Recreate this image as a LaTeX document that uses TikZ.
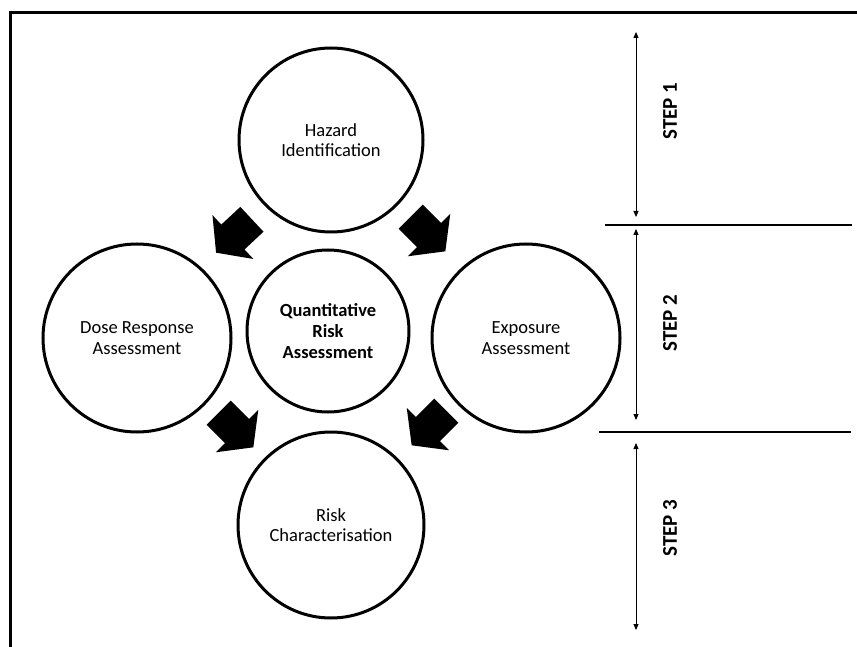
\documentclass[tikz,border=0pt]{standalone}
\usepackage{fontspec}
\setmainfont{Carlito}
\usetikzlibrary{arrows.meta,calc}
\begin{document}
\begin{tikzpicture}[x=1pt,y=-1pt,
  circ/.style={circle,draw,line width=3pt,inner sep=0pt,align=center,
    font=\fontsize{18.5}{20.5}\selectfont},
  blockarrow/.style={fill=black},
  divider/.style={line width=1.5pt},
  span/.style={line width=0.9pt,{Triangle[width=5pt,length=6pt]}-{Triangle[width=5pt,length=6pt]}},
  steplabel/.style={rotate=90,font=\fontsize{21}{24}\selectfont\bfseries,inner sep=0pt}]
\useasboundingbox (0,0) rectangle (857,647);
\fill[white] (0,0) rectangle (857,647);
% frame
\coordinate (fbl) at (10.5,647);
\coordinate (ftl) at (10.5,12.5);
\coordinate (ftr) at (857,12.5);
\draw[line width=3.5pt] (fbl) -- (ftl) -- (ftr);
% circles
\node[circ,minimum size=184pt] (haz) at (331,140) {Hazard\\Identification};
\node[circ,minimum size=188pt] (dose) at (137,338) {Dose Response\\Assessment};
\node[circ,minimum size=162pt,font=\fontsize{18.5}{21}\selectfont\bfseries] (qra) at (328,331) {Quantitative\\Risk\\Assessment};
\node[circ,minimum size=188pt] (expo) at (526,338) {Exposure\\Assessment};
\node[circ,minimum size=186pt] (risk) at (331,525) {Risk\\Characterisation};
% block arrows
\coordinate (a1) at (234,236);
\coordinate (a2) at (428,234);
\coordinate (a3) at (236,430);
\coordinate (a4) at (429,428);
\foreach \p/\ang in {a1/223,a2/315,a3/315,a4/225}{
  \fill[blockarrow,shift={(\p)},rotate=\ang]
    (-24.5,-17) -- (1.5,-17) -- (1.5,-30) -- (24.5,0) -- (1.5,30) -- (1.5,17) -- (-24.5,17) -- cycle;
}
% dividers
\coordinate (d1a) at (605,225); \coordinate (d1b) at (852,225);
\coordinate (d2a) at (599,432); \coordinate (d2b) at (851,432);
\draw[divider] (d1a) -- (d1b);
\draw[divider] (d2a) -- (d2b);
% step spans
\coordinate (s1t) at (636,32);  \coordinate (s1b) at (636,217);
\coordinate (s2t) at (636,229); \coordinate (s2b) at (636,420);
\coordinate (s3t) at (636,443); \coordinate (s3b) at (636,630);
\draw[span] (s1t) -- (s1b);
\draw[span] (s2t) -- (s2b);
\draw[span] (s3t) -- (s3b);
\node[steplabel] (l1) at (670,111) {STEP 1};
\node[steplabel] (l2) at (670,323) {STEP 2};
\node[steplabel] (l3) at (670,528) {STEP 3};
\end{tikzpicture}
\end{document}
